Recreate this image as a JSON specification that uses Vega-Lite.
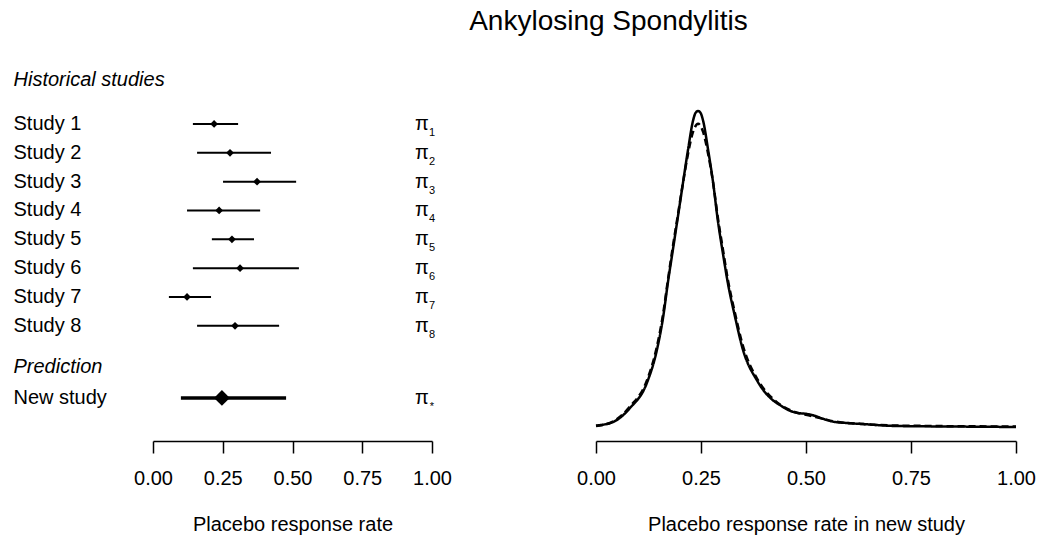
{
  "$schema": "https://vega.github.io/schema/vega-lite/v6.json",
  "padding": {"left": 13, "top": 8, "right": 5, "bottom": 5},
  "background": "white",
  "title": {"text": "Ankylosing Spondylitis", "fontSize": 28, "fontWeight": "normal", "color": "black", "anchor": "middle", "dx": 84, "offset": 19},
  "config": {
    "font": "Liberation Sans",
    "view": {"stroke": null},
    "axis": {"grid": false, "domainColor": "black", "domainWidth": 1.5, "tickColor": "black", "tickWidth": 1.5, "tickSize": 12, "labelFontSize": 20, "labelColor": "black", "labelPadding": 15, "labelFlush": false, "titleFontSize": 20, "titleFontWeight": "normal", "titleColor": "black", "titlePadding": 26}
  },
  "bounds": "flush",
  "spacing": 164,
  "datasets": {
    "studies": [
      {"study": "Study 1", "row": 0, "lo": 0.143, "est": 0.219, "hi": 0.305, "sub": "1", "group": "Historical"},
      {"study": "Study 2", "row": 1, "lo": 0.158, "est": 0.276, "hi": 0.423, "sub": "2", "group": "Historical"},
      {"study": "Study 3", "row": 2, "lo": 0.251, "est": 0.373, "hi": 0.513, "sub": "3", "group": "Historical"},
      {"study": "Study 4", "row": 3, "lo": 0.122, "est": 0.237, "hi": 0.384, "sub": "4", "group": "Historical"},
      {"study": "Study 5", "row": 4, "lo": 0.211, "est": 0.283, "hi": 0.362, "sub": "5", "group": "Historical"},
      {"study": "Study 6", "row": 5, "lo": 0.143, "est": 0.312, "hi": 0.523, "sub": "6", "group": "Historical"},
      {"study": "Study 7", "row": 6, "lo": 0.057, "est": 0.122, "hi": 0.208, "sub": "7", "group": "Historical"},
      {"study": "Study 8", "row": 7, "lo": 0.158, "est": 0.294, "hi": 0.452, "sub": "8", "group": "Historical"},
      {"study": "New study", "row": 9.5, "lo": 0.100, "est": 0.247, "hi": 0.477, "sub": "*", "group": "Prediction"}
    ],
    "headings": [
      {"heading": "Historical studies", "row": -1.53},
      {"heading": "Prediction", "row": 8.43}
    ],
    "density": [
      {"rate": 0.0, "dens": 0.03, "method": "MAP prior (MCMC)"},
      {"rate": 0.04, "dens": 0.10, "method": "MAP prior (MCMC)"},
      {"rate": 0.081, "dens": 0.39, "method": "MAP prior (MCMC)"},
      {"rate": 0.121, "dens": 0.90, "method": "MAP prior (MCMC)"},
      {"rate": 0.145, "dens": 1.58, "method": "MAP prior (MCMC)"},
      {"rate": 0.160, "dens": 2.26, "method": "MAP prior (MCMC)"},
      {"rate": 0.171, "dens": 2.95, "method": "MAP prior (MCMC)"},
      {"rate": 0.183, "dens": 3.63, "method": "MAP prior (MCMC)"},
      {"rate": 0.195, "dens": 4.31, "method": "MAP prior (MCMC)"},
      {"rate": 0.207, "dens": 5.00, "method": "MAP prior (MCMC)"},
      {"rate": 0.219, "dens": 5.68, "method": "MAP prior (MCMC)"},
      {"rate": 0.231, "dens": 6.28, "method": "MAP prior (MCMC)"},
      {"rate": 0.237, "dens": 6.44, "method": "MAP prior (MCMC)"},
      {"rate": 0.243, "dens": 6.48, "method": "MAP prior (MCMC)"},
      {"rate": 0.249, "dens": 6.44, "method": "MAP prior (MCMC)"},
      {"rate": 0.255, "dens": 6.28, "method": "MAP prior (MCMC)"},
      {"rate": 0.267, "dens": 5.68, "method": "MAP prior (MCMC)"},
      {"rate": 0.279, "dens": 5.00, "method": "MAP prior (MCMC)"},
      {"rate": 0.290, "dens": 4.24, "method": "MAP prior (MCMC)"},
      {"rate": 0.302, "dens": 3.57, "method": "MAP prior (MCMC)"},
      {"rate": 0.314, "dens": 2.95, "method": "MAP prior (MCMC)"},
      {"rate": 0.331, "dens": 2.26, "method": "MAP prior (MCMC)"},
      {"rate": 0.350, "dens": 1.58, "method": "MAP prior (MCMC)"},
      {"rate": 0.383, "dens": 0.96, "method": "MAP prior (MCMC)"},
      {"rate": 0.398, "dens": 0.76, "method": "MAP prior (MCMC)"},
      {"rate": 0.421, "dens": 0.55, "method": "MAP prior (MCMC)"},
      {"rate": 0.438, "dens": 0.45, "method": "MAP prior (MCMC)"},
      {"rate": 0.460, "dens": 0.34, "method": "MAP prior (MCMC)"},
      {"rate": 0.479, "dens": 0.29, "method": "MAP prior (MCMC)"},
      {"rate": 0.500, "dens": 0.27, "method": "MAP prior (MCMC)"},
      {"rate": 0.517, "dens": 0.24, "method": "MAP prior (MCMC)"},
      {"rate": 0.540, "dens": 0.17, "method": "MAP prior (MCMC)"},
      {"rate": 0.564, "dens": 0.11, "method": "MAP prior (MCMC)"},
      {"rate": 0.600, "dens": 0.08, "method": "MAP prior (MCMC)"},
      {"rate": 0.636, "dens": 0.06, "method": "MAP prior (MCMC)"},
      {"rate": 0.717, "dens": 0.02, "method": "MAP prior (MCMC)"},
      {"rate": 0.850, "dens": 0.01, "method": "MAP prior (MCMC)"},
      {"rate": 1.0, "dens": 0.0, "method": "MAP prior (MCMC)"},
      {"rate": 0.0, "dens": 0.02, "method": "Mixture approximation"},
      {"rate": 0.04, "dens": 0.11, "method": "Mixture approximation"},
      {"rate": 0.081, "dens": 0.42, "method": "Mixture approximation"},
      {"rate": 0.121, "dens": 0.95, "method": "Mixture approximation"},
      {"rate": 0.145, "dens": 1.65, "method": "Mixture approximation"},
      {"rate": 0.160, "dens": 2.33, "method": "Mixture approximation"},
      {"rate": 0.171, "dens": 3.00, "method": "Mixture approximation"},
      {"rate": 0.183, "dens": 3.70, "method": "Mixture approximation"},
      {"rate": 0.195, "dens": 4.35, "method": "Mixture approximation"},
      {"rate": 0.207, "dens": 5.00, "method": "Mixture approximation"},
      {"rate": 0.219, "dens": 5.60, "method": "Mixture approximation"},
      {"rate": 0.231, "dens": 6.05, "method": "Mixture approximation"},
      {"rate": 0.243, "dens": 6.22, "method": "Mixture approximation"},
      {"rate": 0.255, "dens": 6.05, "method": "Mixture approximation"},
      {"rate": 0.267, "dens": 5.60, "method": "Mixture approximation"},
      {"rate": 0.279, "dens": 5.00, "method": "Mixture approximation"},
      {"rate": 0.290, "dens": 4.30, "method": "Mixture approximation"},
      {"rate": 0.302, "dens": 3.65, "method": "Mixture approximation"},
      {"rate": 0.314, "dens": 3.02, "method": "Mixture approximation"},
      {"rate": 0.331, "dens": 2.33, "method": "Mixture approximation"},
      {"rate": 0.350, "dens": 1.66, "method": "Mixture approximation"},
      {"rate": 0.383, "dens": 1.00, "method": "Mixture approximation"},
      {"rate": 0.398, "dens": 0.80, "method": "Mixture approximation"},
      {"rate": 0.421, "dens": 0.58, "method": "Mixture approximation"},
      {"rate": 0.438, "dens": 0.46, "method": "Mixture approximation"},
      {"rate": 0.469, "dens": 0.32, "method": "Mixture approximation"},
      {"rate": 0.500, "dens": 0.25, "method": "Mixture approximation"},
      {"rate": 0.540, "dens": 0.17, "method": "Mixture approximation"},
      {"rate": 0.564, "dens": 0.12, "method": "Mixture approximation"},
      {"rate": 0.636, "dens": 0.06, "method": "Mixture approximation"},
      {"rate": 0.717, "dens": 0.03, "method": "Mixture approximation"},
      {"rate": 1.0, "dens": 0.01, "method": "Mixture approximation"}
    ]
  },
  "hconcat": [
    {
      "width": 279,
      "height": 386,
      "layer": [
        {
          "data": {"name": "headings"},
          "mark": {"type": "text", "align": "left", "baseline": "middle", "fontSize": 20, "fontStyle": "italic", "color": "black"},
          "encoding": {
            "x": {"datum": -0.5, "type": "quantitative", "scale": {"domain": [0, 1], "nice": false, "zero": false}, "axis": {"values": [0, 0.25, 0.5, 0.75, 1], "format": ".2f", "title": "Placebo response rate"}},
            "y": {"field": "row", "type": "quantitative", "scale": {"domain": [-2.393, 10.995], "reverse": true, "nice": false, "zero": false}, "axis": null},
            "text": {"field": "heading"}
          }
        },
        {
          "data": {"name": "studies"},
          "mark": {"type": "text", "align": "left", "baseline": "middle", "fontSize": 20, "color": "black"},
          "encoding": {
            "x": {"datum": -0.5, "type": "quantitative"},
            "y": {"field": "row", "type": "quantitative"},
            "text": {"field": "study"}
          }
        },
        {
          "data": {"name": "studies"},
          "transform": [{"filter": "datum.group === 'Historical'"}],
          "mark": {"type": "rule", "color": "black", "strokeWidth": 2},
          "encoding": {
            "x": {"field": "lo", "type": "quantitative"},
            "x2": {"field": "hi"},
            "y": {"field": "row", "type": "quantitative"}
          }
        },
        {
          "data": {"name": "studies"},
          "transform": [{"filter": "datum.group === 'Historical'"}],
          "mark": {"type": "point", "shape": "diamond", "filled": true, "color": "black", "opacity": 1, "size": 60},
          "encoding": {
            "x": {"field": "est", "type": "quantitative"},
            "y": {"field": "row", "type": "quantitative"}
          }
        },
        {
          "data": {"name": "studies"},
          "transform": [{"filter": "datum.group === 'Prediction'"}],
          "mark": {"type": "rule", "color": "black", "strokeWidth": 3.5},
          "encoding": {
            "x": {"field": "lo", "type": "quantitative"},
            "x2": {"field": "hi"},
            "y": {"field": "row", "type": "quantitative"}
          }
        },
        {
          "data": {"name": "studies"},
          "transform": [{"filter": "datum.group === 'Prediction'"}],
          "mark": {"type": "point", "shape": "diamond", "filled": true, "color": "black", "opacity": 1, "size": 250},
          "encoding": {
            "x": {"field": "est", "type": "quantitative"},
            "y": {"field": "row", "type": "quantitative"}
          }
        },
        {
          "data": {"name": "studies"},
          "mark": {"type": "text", "align": "center", "baseline": "middle", "fontSize": 20, "color": "black"},
          "encoding": {
            "x": {"datum": 0.964, "type": "quantitative"},
            "y": {"field": "row", "type": "quantitative"},
            "text": {"value": "π"}
          }
        },
        {
          "data": {"name": "studies"},
          "mark": {"type": "text", "align": "center", "baseline": "middle", "fontSize": 11, "color": "black", "dx": 10, "dy": 9},
          "encoding": {
            "x": {"datum": 0.964, "type": "quantitative"},
            "y": {"field": "row", "type": "quantitative"},
            "text": {"field": "sub"}
          }
        }
      ]
    },
    {
      "width": 420,
      "height": 386,
      "data": {"name": "density"},
      "mark": {"type": "line", "color": "black", "strokeWidth": 2.5, "interpolate": "monotone"},
      "encoding": {
        "x": {"field": "rate", "type": "quantitative", "scale": {"domain": [0, 1], "nice": false, "zero": false}, "axis": {"values": [0, 0.25, 0.5, 0.75, 1], "format": ".2f", "title": "Placebo response rate in new study"}},
        "y": {"field": "dens", "type": "quantitative", "scale": {"domain": [-0.287, 7.628], "nice": false, "zero": false}, "axis": null},
        "strokeDash": {"field": "method", "type": "nominal", "scale": {"domain": ["MAP prior (MCMC)", "Mixture approximation"], "range": [[1, 0], [7, 4]]}, "legend": null}
      }
    }
  ]
}
